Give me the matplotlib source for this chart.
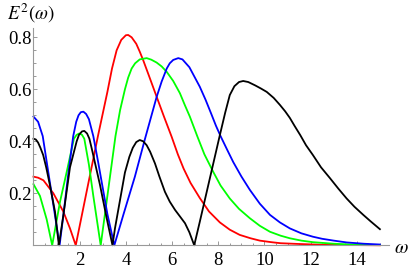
import numpy as np
import matplotlib
matplotlib.use('Agg')
import matplotlib.pyplot as plt
from matplotlib.ticker import MultipleLocator, FixedLocator

# values
xRed = [0, 0.2, 0.43, 0.86, 1.29, 1.58, 1.83, 2.3, 2.8, 3.2, 3.4, 3.6, 3.8, 4.0, 4.1, 4.25, 4.45,
        4.6, 4.75, 5.0, 5.33, 5.65, 5.98, 6.25, 6.5, 6.8, 7.2, 7.6, 8.07, 8.5, 8.93, 9.4, 9.8,
        10.3, 10.7, 11.5, 12.5, 15.0]
yRed = [0.264, 0.26, 0.25, 0.2, 0.13, 0.065, 0, 0.206, 0.424, 0.59, 0.68, 0.75, 0.79, 0.808, 0.809, 0.80, 0.775,
        0.745, 0.712, 0.652, 0.572, 0.495, 0.418, 0.35, 0.295, 0.24, 0.182, 0.13, 0.088, 0.06, 0.04, 0.027, 0.018,
        0.012, 0.008, 0.005, 0.002, 0.0]

xGreen = [0, 0.28, 0.57, 0.81, 1.15, 1.44, 1.75, 1.87, 1.98, 2.1, 2.2, 2.4, 2.59, 2.91, 3.2, 3.55,
          3.75, 3.96, 4.1, 4.25, 4.4, 4.6, 4.9, 5.1, 5.33, 5.55, 5.77, 6.05, 6.34, 6.55, 6.77, 7.09,
          7.4, 7.78, 8.1, 8.5, 8.9, 9.37, 9.8, 10.24, 10.7, 11.1, 11.6, 12.1, 13.0, 14.0, 15.0]
yGreen = [0.235, 0.19, 0.10, 0, 0.168, 0.283, 0.41, 0.425, 0.43, 0.425, 0.41, 0.31, 0.19, 0, 0.19, 0.42,
          0.52, 0.60, 0.645, 0.68, 0.70, 0.715, 0.72, 0.714, 0.703, 0.688, 0.667, 0.632, 0.585, 0.54, 0.495, 0.42,
          0.35, 0.283, 0.23, 0.18, 0.14, 0.104, 0.075, 0.052, 0.037, 0.027, 0.018, 0.012, 0.006, 0.002, 0.001]

xBlue = [0, 0.2, 0.4, 0.6, 0.8, 1.0, 1.13, 1.3, 1.5, 1.72, 1.85, 1.95, 2.05, 2.16, 2.28, 2.4, 2.59,
         2.8, 3.0, 3.2, 3.5, 3.9, 4.39, 4.83, 5.33, 5.55, 5.77, 5.9, 6.05, 6.27, 6.45, 6.6, 6.75,
         6.9, 7.05, 7.2, 7.45, 7.7, 7.9, 8.1, 8.4, 8.65, 9.0, 9.37, 9.8, 10.24, 10.67, 11.1, 11.6,
         12.1, 12.5, 13.0, 13.56, 14.3, 15.0]
yBlue = [0.495, 0.475, 0.42, 0.305, 0.19, 0.075, 0, 0.12, 0.27, 0.42, 0.475, 0.5, 0.512, 0.514, 0.505, 0.485, 0.42,
         0.32, 0.22, 0.12, 0, 0.12, 0.264, 0.41, 0.57, 0.63, 0.68, 0.70, 0.713, 0.72, 0.715, 0.70, 0.685,
         0.66, 0.635, 0.61, 0.56, 0.505, 0.46, 0.42, 0.365, 0.32, 0.265, 0.213, 0.16, 0.117, 0.088, 0.065, 0.046,
         0.033, 0.025, 0.018, 0.011, 0.006, 0.003]

xBlack = [0, 0.1, 0.2, 0.3, 0.42, 0.55, 0.71, 0.93, 1.10, 1.3, 1.58, 1.87, 1.97, 2.1, 2.2, 2.32, 2.42,
          2.52, 2.88, 3.17, 3.42, 3.53, 3.96, 4.15, 4.3, 4.45, 4.6, 4.75, 4.9, 5.05, 5.26, 5.45, 5.69,
          5.9, 6.13, 6.35, 6.56, 6.75, 6.96, 7.2, 8.07, 8.3, 8.5, 8.7, 8.9, 9.08, 9.3, 9.6, 9.85, 10.1,
          10.4, 10.67, 10.9, 11.1, 11.3, 11.55, 11.8, 12.1, 12.45, 12.84, 13.2, 13.56, 13.9, 14.28, 14.6, 15.0]
yBlack = [0.41, 0.407, 0.395, 0.375, 0.347, 0.3, 0.232, 0.13, 0, 0.12, 0.3, 0.4, 0.425, 0.438, 0.44, 0.43, 0.41,
          0.373, 0.232, 0.104, 0, 0.066, 0.28, 0.34, 0.375, 0.397, 0.405, 0.4, 0.385, 0.36, 0.315, 0.265, 0.206,
          0.168, 0.136, 0.11, 0.085, 0.05, 0, 0.09, 0.424, 0.51, 0.578, 0.612, 0.628, 0.632, 0.628, 0.615, 0.603, 0.59,
          0.567, 0.54, 0.515, 0.49, 0.46, 0.424, 0.385, 0.347, 0.3, 0.258, 0.218, 0.18, 0.148, 0.117, 0.092, 0.062]

xTicks = [2, 4, 6, 8, 10, 12, 14]
yTicks = [0.2, 0.4, 0.6, 0.8]

plt.rcParams['mathtext.fontset'] = 'stix'

fig = plt.figure(figsize=(4.15, 2.70), dpi=100)
ax = fig.add_axes([0.0807, 0.0915, 0.857, 0.804])

lw = 1.3
ax.plot(xRed, yRed, color='#ff0000', lw=lw, clip_on=False)
ax.plot(xGreen, yGreen, color='#00ff00', lw=lw, clip_on=False)
ax.plot(xBlue, yBlue, color='#0000ff', lw=lw, clip_on=False)
ax.plot(xBlack, yBlack, color='black', lw=lw, clip_on=False)

ax.set_xlim(0, 15.4)
ax.set_ylim(0, 0.835)

for s in ['top', 'right']:
    ax.spines[s].set_visible(False)
for s in ['left', 'bottom']:
    ax.spines[s].set_color('#999999')
    ax.spines[s].set_linewidth(0.8)

ax.xaxis.set_major_locator(FixedLocator(xTicks))
ax.xaxis.set_minor_locator(MultipleLocator(0.5))
ax.yaxis.set_major_locator(FixedLocator(yTicks))
ax.yaxis.set_minor_locator(MultipleLocator(0.05))
ax.set_xticklabels([str(t) for t in xTicks])
ax.set_yticklabels([str(t) for t in yTicks])

ax.tick_params(which='both', direction='in', color='#999999', width=0.7)
ax.tick_params(which='major', length=3)
ax.tick_params(which='minor', length=1.8)
ax.tick_params(axis='x', pad=5)
ax.tick_params(axis='y', pad=1.5)
for lab in ax.get_xticklabels() + ax.get_yticklabels():
    lab.set_family('Liberation Serif')
    lab.set_fontsize(13.5)

fig.text(0.075, 0.95, r'$E^2(\omega)$', ha='center', va='center', fontsize=13.5)
fig.text(0.966, 0.085, r'$\omega$', ha='center', va='center', fontsize=14)

plt.savefig('out.png', dpi=100)
